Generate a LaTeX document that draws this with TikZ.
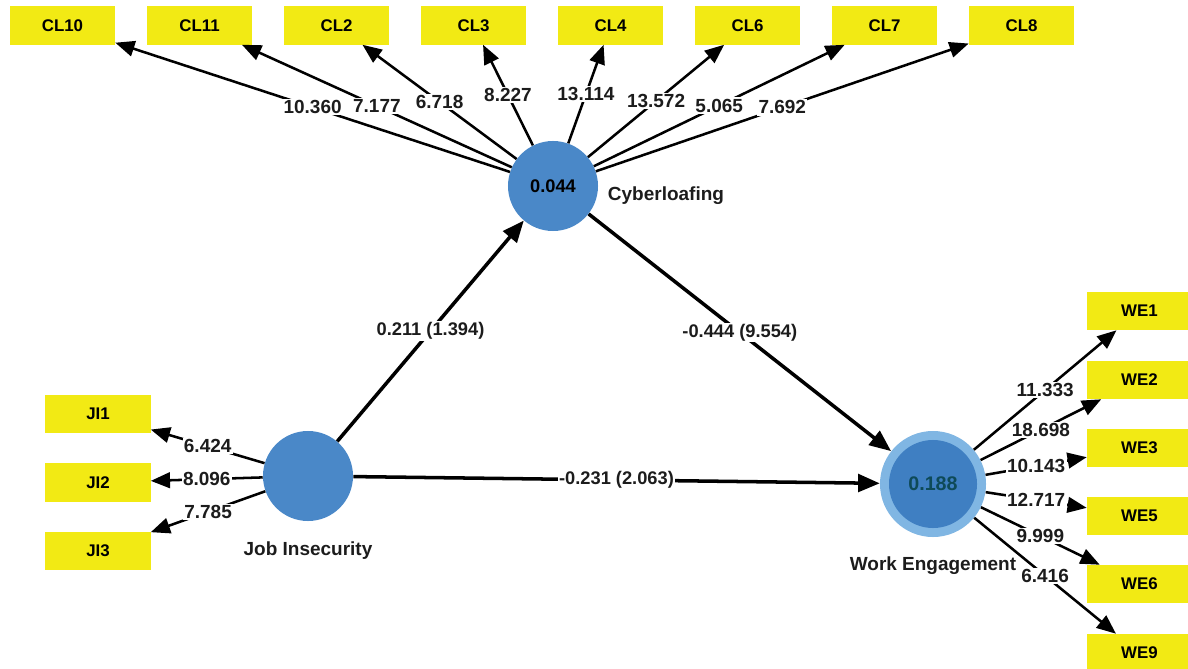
\documentclass[tikz,border=0pt]{standalone}
\usepackage{fontspec}
\setmainfont{Liberation Sans}
\usepackage{tikz}
\usetikzlibrary{arrows.meta}
\definecolor{IndYellow}{HTML}{F2EA14}
\definecolor{LvBlue}{HTML}{4A88C8}
\definecolor{LvRing}{HTML}{80B6E3}
\definecolor{LvInner}{HTML}{3F7FC2}
\definecolor{LvText}{HTML}{0E4A58}
\definecolor{ValText}{HTML}{1C1C1C}

\begin{document}
\begin{tikzpicture}[x=0.025cm,y=-0.025cm,
  indbox/.style={fill=IndYellow,minimum width=26.25mm,minimum height=9.5mm,inner sep=0pt,font=\fontsize{12}{12}\selectfont\bfseries},
  latent/.style={circle,fill=LvBlue,minimum size=22.5mm,inner sep=0pt,font=\fontsize{13}{13}\selectfont\bfseries},
  ldarrow/.style={line width=1.8pt,-{Triangle[length=4.8mm,width=3.9mm]}},
  patharrow/.style={line width=2.5pt,-{Triangle[length=5.4mm,width=4.4mm]}},
  val/.style={fill=white,inner sep=1pt,text=ValText,font=\fontsize{13.5}{14}\selectfont\bfseries},
  lvname/.style={text=ValText,font=\fontsize{13.5}{14}\selectfont\bfseries}]
  \useasboundingbox (0,0) rectangle (1188,669);
  \def\ind#1#2#3{
    \node[indbox] (#1) at (#2,#3) {#1};
  }
  \def\loading#1#2#3{
    \draw[ldarrow] (#1) -- node[val] {#3} (#2);
  }
  % latent variables
  \node[latent] (cyb) at (553,186) {0.044};
  \node[latent] (jis) at (308,476) {};
  \node[circle,fill=LvRing,minimum size=26.5mm] (wen) at (933,484) {};
  \node[latent,fill=LvInner,minimum size=22mm,text=LvText,font=\fontsize{14}{14}\selectfont\bfseries] at (wen) {0.188};
  \node[lvname,anchor=west] (cyblbl) at (603,196) {Cyberloafing};
  \node[lvname] (jislbl) at (308,551) {Job Insecurity};
  \node[lvname] (wenlbl) at (933,566) {Work Engagement};
  % indicators
  \ind{CL10}{62.5}{25.5}
  \ind{CL11}{199.5}{25.5}
  \ind{CL2}{336.5}{25.5}
  \ind{CL3}{473.5}{25.5}
  \ind{CL4}{610.5}{25.5}
  \ind{CL6}{747.5}{25.5}
  \ind{CL7}{884.5}{25.5}
  \ind{CL8}{1021.5}{25.5}
  \ind{JI1}{98}{414}
  \ind{JI2}{98}{482.5}
  \ind{JI3}{98}{551}
  \ind{WE1}{1139.5}{311}
  \ind{WE2}{1139.5}{380}
  \ind{WE3}{1139.5}{448}
  \ind{WE5}{1139.5}{516}
  \ind{WE6}{1139.5}{584}
  \ind{WE9}{1139.5}{653}
  % outer loadings
  \loading{cyb}{CL10}{10.360}
  \loading{cyb}{CL11}{7.177}
  \loading{cyb}{CL2}{6.718}
  \loading{cyb}{CL3}{8.227}
  \loading{cyb}{CL4}{13.114}
  \loading{cyb}{CL6}{13.572}
  \loading{cyb}{CL7}{5.065}
  \loading{cyb}{CL8}{7.692}
  \loading{jis}{JI1}{6.424}
  \loading{jis}{JI2}{8.096}
  \loading{jis}{JI3}{7.785}
  \loading{wen}{WE1}{11.333}
  \loading{wen}{WE2}{18.698}
  \loading{wen}{WE3}{10.143}
  \loading{wen}{WE5}{12.717}
  \loading{wen}{WE6}{9.999}
  \loading{wen}{WE9}{6.416}
  % structural paths
  \draw[patharrow] (jis) -- node[val,font=\fontsize{13}{13}\selectfont\bfseries] {0.211 (1.394)} (cyb);
  \draw[patharrow] (cyb) -- node[val,font=\fontsize{13}{13}\selectfont\bfseries] {-0.444 (9.554)} (wen);
  \draw[patharrow] (jis) -- node[val,font=\fontsize{13}{13}\selectfont\bfseries] {-0.231 (2.063)} (wen);
\end{tikzpicture}
\end{document}
